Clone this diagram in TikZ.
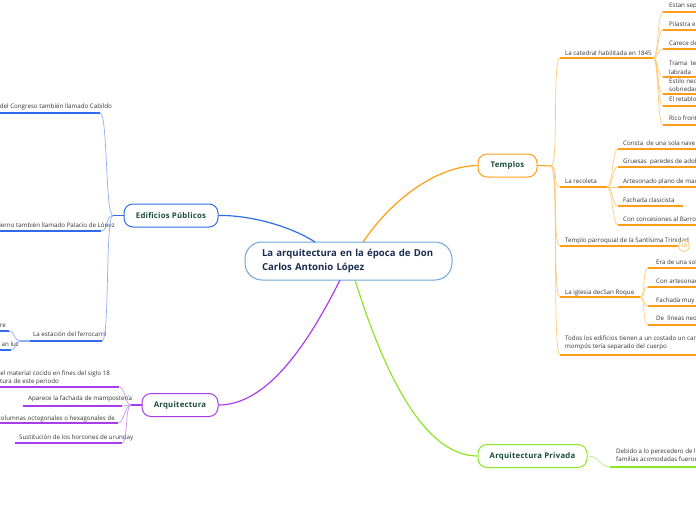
\documentclass[tikz,border=0pt]{standalone}
\usepackage{fontspec}
\setmainfont{Open Sans}
\newfontfamily\leaffont{Open Sans}
\newfontfamily\branchfont[LetterSpace=3]{Open Sans}
\usetikzlibrary{calc}
\definecolor{orline}{HTML}{FF9E14}
\definecolor{orcurve}{HTML}{FFCB7A}
\definecolor{blline}{HTML}{2F6BEB}
\definecolor{blcurve}{HTML}{90ACF5}
\definecolor{puline}{HTML}{A93DEE}
\definecolor{pucurve}{HTML}{CC92F5}
\definecolor{grline}{HTML}{8CE628}
\definecolor{grcurve}{HTML}{BCEF86}
\definecolor{titlecol}{HTML}{1C2C4F}
\definecolor{branchtxt}{HTML}{1C4D3A}
\definecolor{centerbd}{HTML}{6EA6DA}
\begin{document}
\begin{tikzpicture}[x=1pt,y=-1pt,
  leaf/.style={font=\leaffont\fontsize{6.2}{8.5}\selectfont, inner sep=0pt, text=black!80},
  branch/.style={draw, rounded corners=9pt, line width=1pt, fill=white, minimum height=23pt, inner sep=2pt, font=\branchfont\bfseries\fontsize{7.8}{9}\selectfont, text=branchtxt},
  ocur/.style={draw=orcurve, line width=0.7pt},
  oline/.style={draw=orline, line width=1.1pt},
  bcur/.style={draw=blcurve, line width=0.7pt},
  bline/.style={draw=blline, line width=1.1pt},
  pcur/.style={draw=pucurve, line width=0.7pt},
  pline/.style={draw=puline, line width=1.1pt},
  gcur/.style={draw=grcurve, line width=0.7pt},
  gline/.style={draw=grline, line width=1.1pt}]
\useasboundingbox (0,0) rectangle (696,520);
\clip (0,0) rectangle (696,520);

% ---------- main nodes ----------
\node[draw=centerbd, line width=1pt, rounded corners=17pt, fill=white, text width=173pt, inner xsep=17pt, minimum height=38pt, align=left, font=\bfseries\fontsize{9.6}{14}\selectfont, text=titlecol] (Cen) at (348.5,261) {La arquitectura en la época de Don\\Carlos Antonio López};
\node[branch, draw=orline, minimum width=59pt] (T) at (507.5,165.5) {Templos};
\node[branch, draw=blline, minimum width=94pt] (E) at (171,215.5) {Edificios Públicos};
\node[branch, draw=puline, minimum width=76pt] (A) at (180,405) {Arquitectura};
\node[branch, draw=grline, minimum width=109pt] (P) at (532.5,456) {Arquitectura Privada};

\coordinate (cT) at (363,242);
\coordinate (cE) at (315,242);
\coordinate (cA) at (340,280);
\coordinate (cP) at (355,280);
\draw[draw=orline, line width=1.2pt] (cT) .. controls (395,195) and (440,166) .. (T.west);
\draw[draw=blline, line width=1.2pt] (cE) .. controls (290,226) and (250,215) .. (E.east);
\draw[draw=puline, line width=1.2pt] (cA) .. controls (305,350) and (265,405) .. (A.east);
\draw[draw=grline, line width=1.2pt] (cP) .. controls (380,360) and (420,456) .. (P.west);

% ---------- Templos ----------
\coordinate (TB) at (551,166);
\draw[oline] (T.east) -- (TB);

% La catedral
\coordinate (t1s) at (560,58); \coordinate (t1e) at (653,58);
\node[leaf, anchor=base west] (t1) at (565,55) {La catedral habilitada en 1845};
\draw[ocur] (TB) .. controls +(8,0) and +(-8,0) .. (t1s);
\draw[oline] (t1s) -- (t1e);
\foreach \n/\u/\b/\txt in {c1/12/7/{Estan sep},c2/30/26/{Pilastra e},c3/49/45/{Carece de},c6/106/101/{El retablo},c7/125/120/{Rico front}}{
  \coordinate (\n s) at (663,\u);
  \coordinate (\n e) at (700,\u);
  \node[leaf, anchor=base west] (\n) at (669,\b) {\txt};
  \draw[ocur] (t1e) .. controls +(6,0) and +(-6,0) .. (\n s);
  \draw[oline] (\n s) -- (\n e);
}
\coordinate (c4s) at (663,77); \coordinate (c4e) at (700,77);
\node[leaf, anchor=north west, align=left] (c4) at (669,61.3) {Trama\ \ te\\labrada};
\draw[ocur] (t1e) .. controls +(6,0) and +(-6,0) .. (c4s);
\draw[oline] (c4s) -- (c4e);
\coordinate (c5s) at (663,94); \coordinate (c5e) at (700,94);
\node[leaf, anchor=north west, align=left] (c5) at (669,78.3) {Estilo neo\\sobriedad};
\draw[ocur] (t1e) .. controls +(6,0) and +(-6,0) .. (c5s);
\draw[oline] (c5s) -- (c5e);

% La recoleta
\coordinate (t2s) at (560,187); \coordinate (t2e) at (607,187);
\node[leaf, anchor=base west] (t2) at (565,183) {La recoleta};
\draw[ocur] (TB) .. controls +(8,0) and +(-8,0) .. (t2s);
\draw[oline] (t2s) -- (t2e);
\foreach \n/\u/\b/\r/\txt in {r1/149/145/700/{Consta\ \ de una sola nave r},r2/167/163/700/{Gruesas\ \ paredes de adob},r3/187/183/700/{Artesonado plano de mad},r4/206/202/683/{Fachada clasicista},r5/225/221/700/{Con concesiones al Barroc}}{
  \coordinate (\n s) at (618,\u);
  \coordinate (\n e) at (\r,\u);
  \node[leaf, anchor=base west] (\n) at (623,\b) {\txt};
  \draw[ocur] (t2e) .. controls +(6,0) and +(-6,0) .. (\n s);
  \draw[oline] (\n s) -- (\n e);
}

% Templo parroquial
\coordinate (t3s) at (560,246); \coordinate (t3e) at (679,246);
\node[leaf, anchor=base west] (t3) at (565,242) {Templo parroquial de la Santísima Trinidad};
\draw[ocur] (TB) .. controls +(8,0) and +(-8,0) .. (t3s);
\draw[oline] (t3s) -- (t3e);
\node[circle, draw=orcurve, line width=0.8pt, fill=white, inner sep=0pt, minimum size=11pt, text=orline, font=\fontsize{5}{5}\selectfont] (t3c) at (684,246) {10};

% San Roque
\coordinate (t4s) at (560,297); \coordinate (t4e) at (640,297);
\node[leaf, anchor=base west] (t4) at (565,294) {La iglesia decSan Roque};
\draw[ocur] (TB) .. controls +(8,0) and +(-8,0) .. (t4s);
\draw[oline] (t4s) -- (t4e);
\foreach \n/\u/\b/\txt in {s1/268/264/{Era de una sola},s2/287/283/{Con artesonado},s3/306/302/{Fachada muy s},s4/325/320/{De\ \ líneas neo}}{
  \coordinate (\n s) at (648,\u);
  \coordinate (\n e) at (700,\u);
  \node[leaf, anchor=base west] (\n) at (656,\b) {\txt};
  \draw[ocur] (t4e) .. controls +(6,0) and +(-6,0) .. (\n s);
  \draw[oline] (\n s) -- (\n e);
}

% Todos
\coordinate (t5s) at (560,355); \coordinate (t5e) at (700,355);
\node[leaf, anchor=north west, align=left] (t5) at (565,335.5) {Todos los edificios tienen a un costado un campa\\mompós tería separado del cuerpo};
\draw[ocur] (TB) .. controls +(8,0) and +(-8,0) .. (t5s);
\draw[oline] (t5s) -- (t5e);

% ---------- Edificios Publicos ----------
\coordinate (EB) at (113,215.5);
\draw[bline] (E.west) -- (EB);
\coordinate (e1e) at (100,113); \coordinate (e1s) at (-5,113);
\node[leaf, anchor=base east] (e1) at (112,108) {o del Congreso también llamado Cabildo};
\draw[bcur] (EB) .. controls +(-8,0) and +(8,0) .. (e1e);
\draw[bline] (e1s) -- (e1e);
\coordinate (e2e) at (101,231); \coordinate (e2s) at (-5,231);
\node[leaf, anchor=base east] (e2) at (115,227) {bierno también llamado Palacio de López};
\draw[bcur] (EB) .. controls +(-8,0) and +(8,0) .. (e2e);
\draw[bline] (e2s) -- (e2e);
\coordinate (e3e) at (102,341); \coordinate (e3s) at (30,341);
\node[leaf, anchor=base west] (e3) at (33,336) {La estación del ferrocarril};
\draw[bcur] (EB) .. controls +(-8,0) and +(8,0) .. (e3e);
\draw[bline] (e3s) -- (e3e);
\coordinate (LB) at (20,341);
\draw[bcur, line width=1.1pt] (LB) -- (e3s);
\coordinate (l1e) at (9,331); \coordinate (l1s) at (-5,331);
\node[leaf, anchor=base east] (l1) at (6,327) {re};
\draw[bcur] (LB) .. controls +(-6,0) and +(6,0) .. (l1e);
\draw[bline] (l1s) -- (l1e);
\coordinate (l2e) at (11,350); \coordinate (l2s) at (-5,350);
\node[leaf, anchor=base east] (l2) at (19,346) {an luz};
\draw[bcur] (LB) .. controls +(-6,0) and +(6,0) .. (l2e);
\draw[bline] (l2s) -- (l2e);

% ---------- Arquitectura ----------
\coordinate (AB) at (131,405);
\draw[pline] (A.west) -- (AB);
\coordinate (a1e) at (119,387); \coordinate (a1s) at (-5,387);
\node[leaf, anchor=base east] (a1) at (110,375) {del material cocido en fines del siglo 18};
\node[leaf, anchor=base east] (a1b) at (59,383) {tura de este periodo};
\draw[pcur] (AB) .. controls +(-6,0) and +(6,0) .. (a1e);
\draw[pline] (a1s) -- (a1e);
\coordinate (a2e) at (122,406); \coordinate (a2s) at (23,406);
\node[leaf, anchor=base west] (a2) at (28,400) {Aparece la fachada de mampostería};
\draw[pcur] (AB) .. controls +(-4,0) and +(4,0) .. (a2e);
\draw[pline] (a2s) -- (a2e);
\coordinate (a3e) at (118,423); \coordinate (a3s) at (-5,423);
\node[leaf, anchor=base east] (a3) at (115,420) {s columnas octogonales o hexagonales de};
\draw[pcur] (AB) .. controls +(-6,0) and +(6,0) .. (a3e);
\draw[pline] (a3s) -- (a3e);
\coordinate (a4e) at (122,443); \coordinate (a4s) at (15,443);
\node[leaf, anchor=base west] (a4) at (19,439) {Sustitución de los horcones de urunday};
\draw[pcur] (AB) .. controls +(-6,0) and +(6,0) .. (a4e);
\draw[pline] (a4s) -- (a4e);

% ---------- Arquitectura Privada ----------
\coordinate (p1s) at (610,467); \coordinate (p1e) at (700,467);
\node[leaf, anchor=north west, align=left] (p1) at (616,448.5) {Debido a lo perecedero de los\\familias acomodadas fueron};
\draw[gcur] (P.east) .. controls +(12,0) and +(-10,0) .. (p1s);
\draw[gline] (p1s) -- (p1e);
\end{tikzpicture}
\end{document}
